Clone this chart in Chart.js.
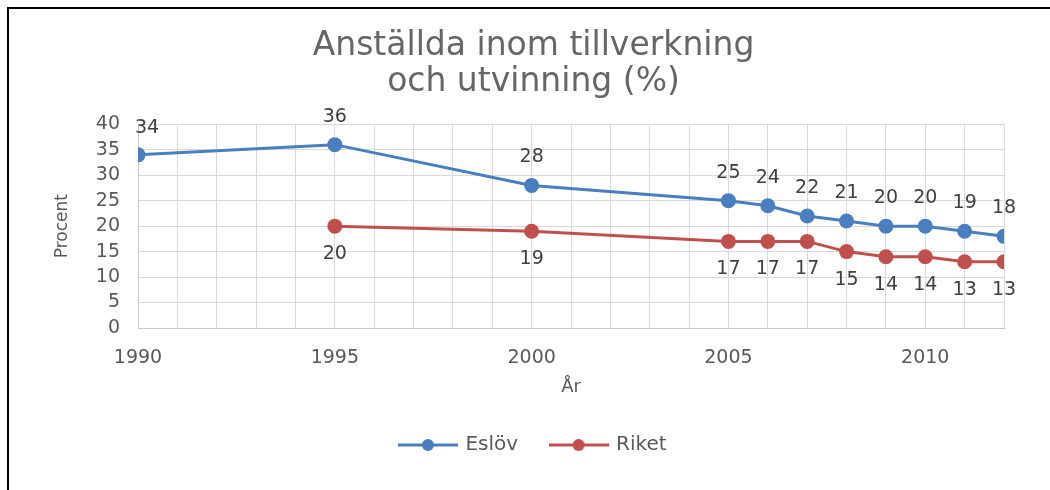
<!DOCTYPE html>
<html>
<head>
<meta charset="utf-8">
<script src="https://cdn.jsdelivr.net/npm/chart.js@4.4.1/dist/chart.umd.min.js"></script>
<style>
  html, body { margin: 0; padding: 0; background: #fff; overflow: hidden; width: 1050px; height: 490px; }
  #frame { position: absolute; left: 7px; top: 7px; width: 1200px; height: 700px; border-left: 2px solid #000; border-top: 2px solid #000; }
  #wrap { position: absolute; left: 9px; top: 9px; width: 1041px; height: 481px; }
</style>
</head>
<body>
<div id="frame"></div>
<div id="wrap"><canvas id="c"></canvas></div>
<script>
const titleLines = ['Anställda inom tillverkning', 'och utvinning (%)'];
const years = [1990, 1995, 2000, 2005, 2006, 2007, 2008, 2009, 2010, 2011, 2012];
const eslov = [34, 36, 28, 25, 24, 22, 21, 20, 20, 19, 18];
const riketYears = [1995, 2000, 2005, 2006, 2007, 2008, 2009, 2010, 2011, 2012];
const riket = [20, 19, 17, 17, 17, 15, 14, 14, 13, 13];
const seriesNames = ['Eslöv', 'Riket'];
const xAxisTitle = 'År';
const yAxisTitle = 'Procent';

const BLUE = '#4a7ebf';
const RED = '#c0504d';
const FONT = "'DejaVu Sans', sans-serif";

function legendIcon(color) {
  const c = document.createElement('canvas');
  c.width = 60; c.height = 14;
  const g = c.getContext('2d');
  g.strokeStyle = color; g.lineWidth = 3;
  g.beginPath(); g.moveTo(0, 7); g.lineTo(60, 7); g.stroke();
  g.fillStyle = color;
  g.beginPath(); g.arc(30, 7, 6, 0, Math.PI * 2); g.fill();
  return c;
}

const labelPlugin = {
  id: 'pointLabels',
  afterDatasetsDraw(chart) {
    const ctx = chart.ctx;
    const area = chart.chartArea;
    ctx.save();
    ctx.font = "19px " + FONT;
    ctx.fillStyle = '#404040';
    ctx.textAlign = 'center';
    ctx.textBaseline = 'middle';
    chart.data.datasets.forEach((ds, di) => {
      const meta = chart.getDatasetMeta(di);
      const dy = di === 0 ? -28 : 28;
      meta.data.forEach((pt, i) => {
        const txt = String(ds.data[i].y);
        const w = ctx.measureText(txt).width;
        let x = pt.x;
        if (x - w / 2 < area.left - 3) x = area.left - 3 + w / 2;
        ctx.fillText(txt, x, pt.y + dy + (i === 0 && di === 0 ? 1 : 0));
      });
    });
    ctx.restore();
  }
};

new Chart(document.getElementById('c'), {
  type: 'line',
  data: {
    datasets: [
      {
        label: seriesNames[0],
        data: years.map((x, i) => ({ x: x, y: eslov[i] })),
        borderColor: BLUE, backgroundColor: BLUE,
        pointBackgroundColor: BLUE, pointBorderColor: BLUE,
        borderWidth: 3, pointRadius: 6, tension: 0
      },
      {
        label: seriesNames[1],
        data: riketYears.map((x, i) => ({ x: x, y: riket[i] })),
        borderColor: RED, backgroundColor: RED,
        pointBackgroundColor: RED, pointBorderColor: RED,
        borderWidth: 3, pointRadius: 6, tension: 0
      }
    ]
  },
  options: {
    responsive: true,
    maintainAspectRatio: false,
    animation: false,
    layout: { padding: { left: 54, right: 46, top: 0, bottom: 25 } },
    plugins: {
      title: {
        display: true,
        text: titleLines,
        color: '#666666',
        font: { family: FONT, size: 33, weight: 'normal', lineHeight: 1.08 },
        padding: { top: 20, bottom: 24 }
      },
      legend: {
        position: 'bottom',
        labels: {
          color: '#595959',
          font: { family: FONT, size: 20 },
          usePointStyle: true,
          pointStyleWidth: 55,
          padding: 33,
          generateLabels(chart) {
            return chart.data.datasets.map((ds, i) => ({
              text: ds.label,
              pointStyle: legendIcon(ds.borderColor),
              fillStyle: ds.borderColor,
              strokeStyle: ds.borderColor,
              lineWidth: 0,
              fontColor: '#595959',
              datasetIndex: i,
              hidden: false
            }));
          }
        }
      },
      tooltip: { enabled: false }
    },
    scales: {
      x: {
        type: 'linear',
        min: 1990,
        max: 2012,
        afterFit(s) { s.height = 74; },
        grid: { color: '#d9d9d9', lineWidth: 1, drawTicks: false },
        border: { color: '#c8c8c8', width: 1 },
        ticks: {
          stepSize: 1,
          autoSkip: false,
          maxRotation: 0,
          padding: 19,
          color: '#595959',
          font: { family: FONT, size: 19 },
          callback: (v) => (v % 5 === 0 ? String(v) : '')
        },
        title: {
          display: true,
          text: xAxisTitle,
          color: '#595959',
          font: { family: FONT, size: 18 },
          padding: { top: 0, bottom: 4 }
        }
      },
      y: {
        min: 0,
        max: 40,
        afterFit(s) { s.width = 75; },
        grid: { color: '#d9d9d9', lineWidth: 1, drawTicks: false },
        border: { color: '#c8c8c8', width: 1 },
        ticks: {
          stepSize: 5,
          autoSkip: false,
          padding: 18,
          color: '#595959',
          font: { family: FONT, size: 19 }
        },
        title: {
          display: true,
          text: yAxisTitle,
          color: '#595959',
          font: { family: FONT, size: 17 },
          padding: { top: -11, bottom: 0 }
        }
      }
    }
  },
  plugins: [labelPlugin]
});
</script>
</body>
</html>
